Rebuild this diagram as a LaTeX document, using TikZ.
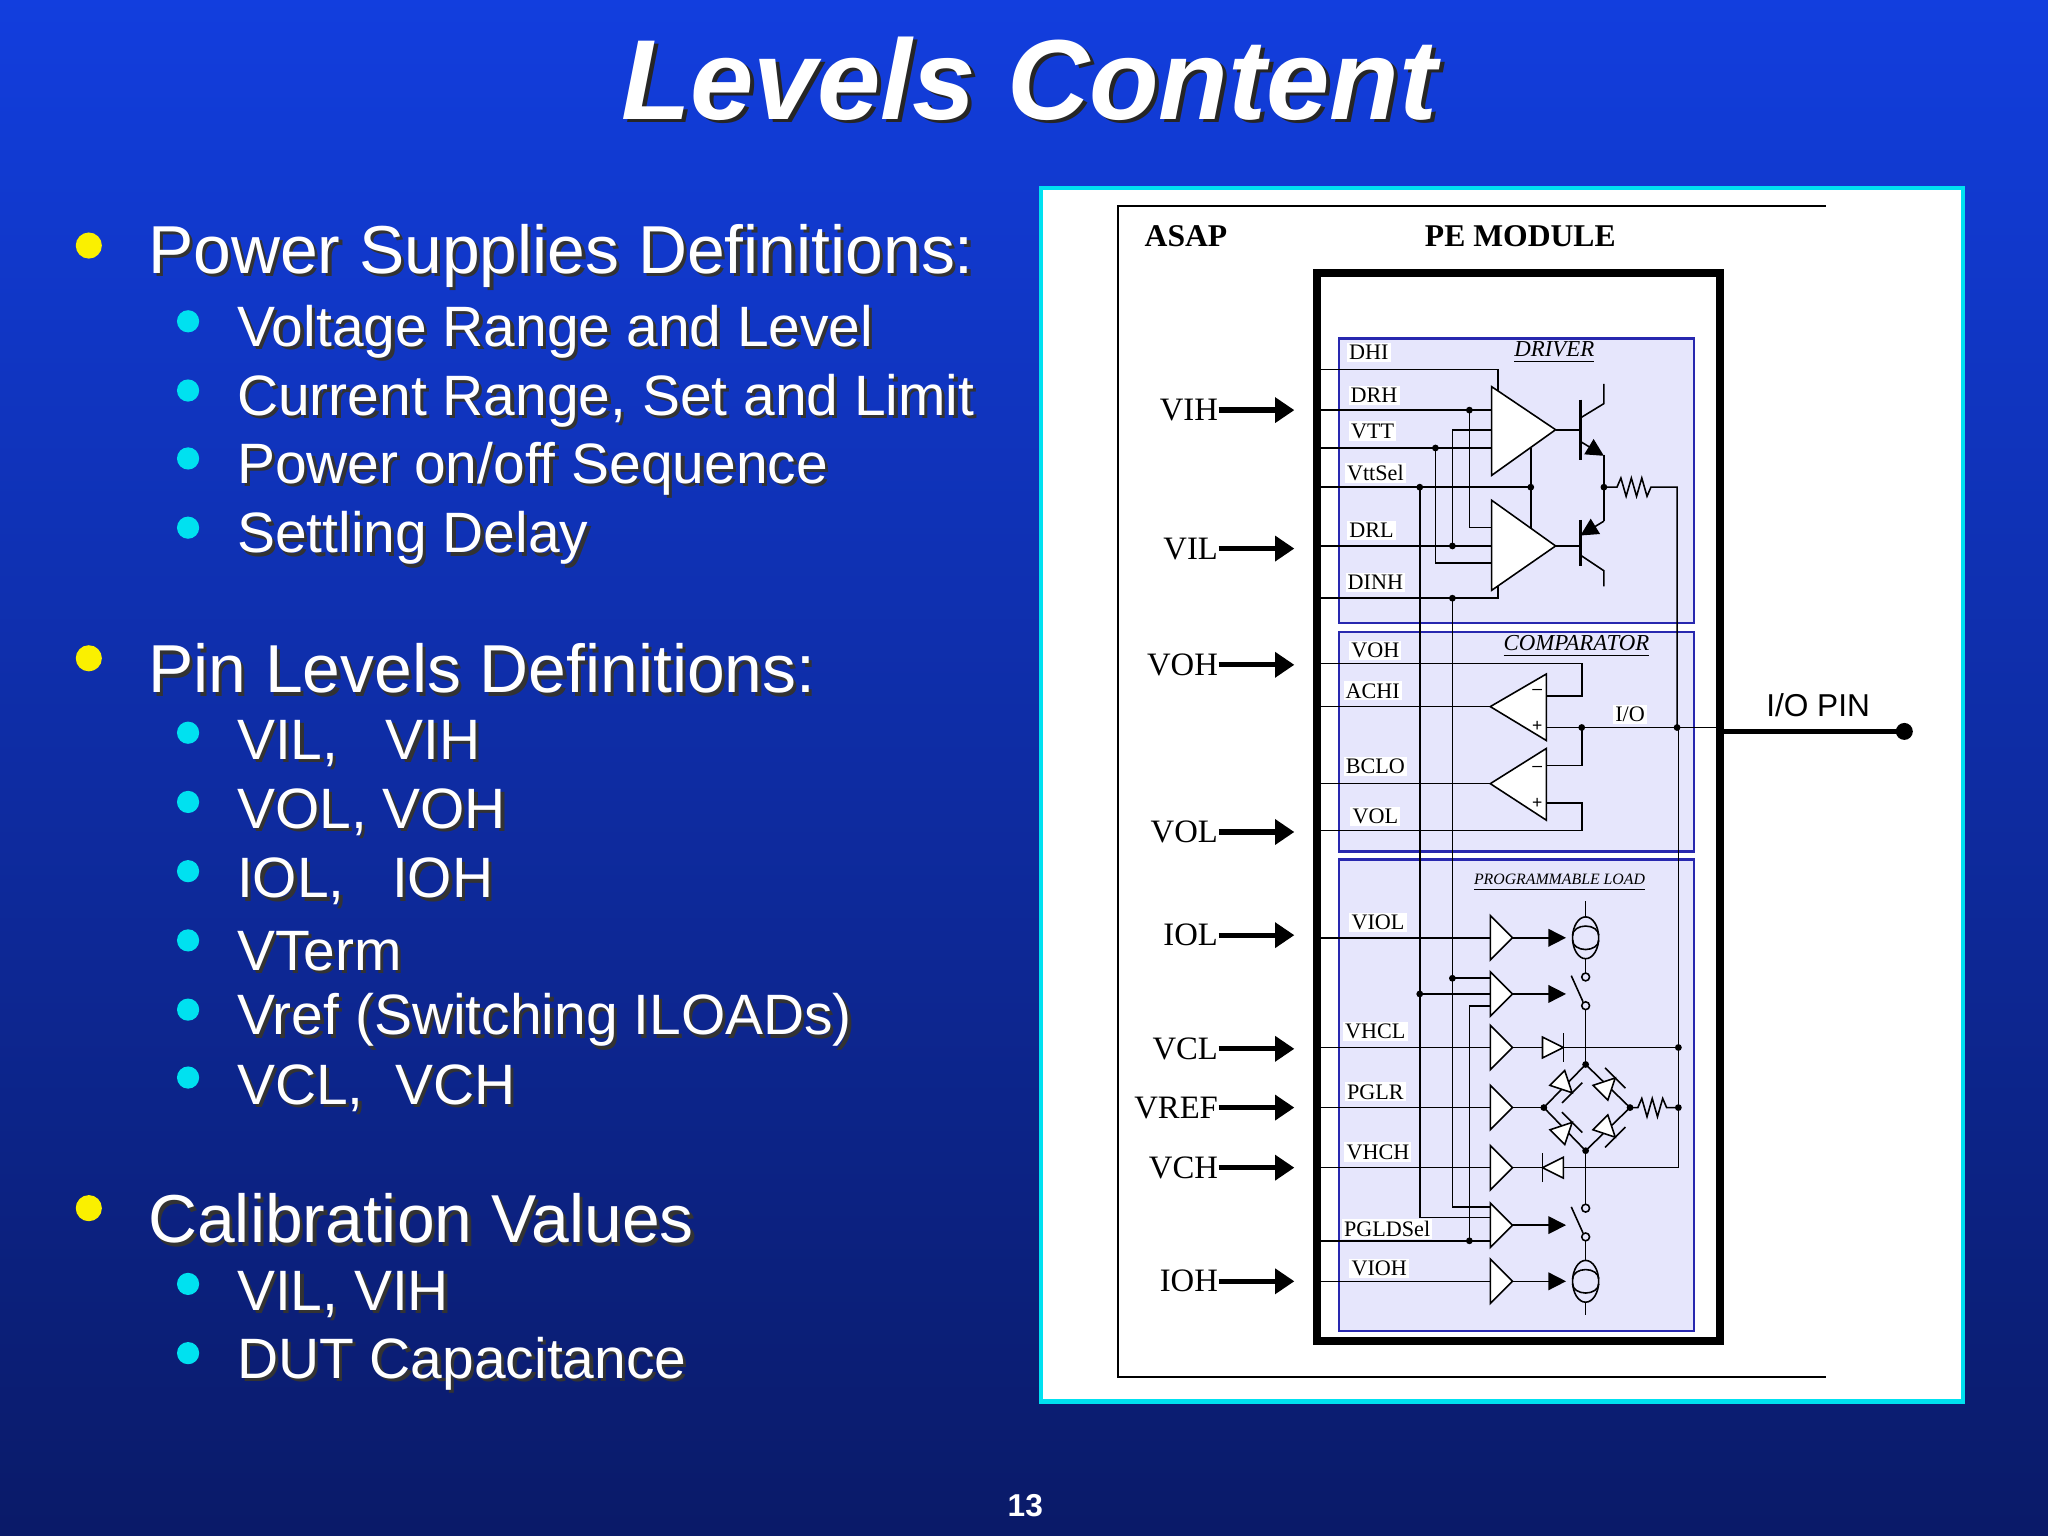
\documentclass[tikz,border=0pt]{standalone}
\usepackage{fontspec}
\setmainfont{Liberation Sans}
\newfontfamily\ser{Liberation Serif}
\usetikzlibrary{arrows.meta}
\definecolor{bgtop}{RGB}{18,62,222}
\definecolor{bgbot}{RGB}{10,26,104}
\definecolor{lav}{RGB}{230,230,252}
\definecolor{bbord}{RGB}{40,40,175}
\definecolor{cyanb}{RGB}{0,225,240}
\definecolor{bulY}{RGB}{250,240,0}
\definecolor{bulC}{RGB}{0,225,240}
\tikzset{
 w/.style={line width=0.45pt},
 inlab/.style={font=\ser\fontsize{6.3}{7}\selectfont, fill=white, inner sep=0.6pt},
 leftlab/.style={font=\ser\fontsize{9.3}{10}\selectfont, anchor=east, inner sep=0pt},
 bigarr/.style={line width=1.5pt,-{Triangle[length=5.5pt,width=7pt]}},
 dot/.style={fill=black},
 sub/.style={draw=bbord, fill=lav, line width=0.7pt},
}
\newcommand{\buf}[2]{\draw[w,fill=white] (#1,#2-17)--(#1+17,#2)--(#1,#2+17)--cycle;}
\newcommand{\jdot}[2]{\fill (#1,#2) circle (2.6);}
\newcommand{\shtxt}[4]{\node[anchor=west,inner sep=0pt,text=black!80,font=#3] at (#1+2.5,#2+2.5) {#4};\node[anchor=west,inner sep=0pt,text=white,font=#3] at (#1,#2) {#4};}
\newcommand{\csrc}[2]{\draw[w] (#1,#2) ellipse (10 and 16); \draw[w] (#1-10,#2-2) arc (180:360:10 and 7); \draw[w] (#1-10,#2+2) arc (180:0:10 and 7);}
\newcommand{\dio}[3]{\begin{scope}[shift={(#1,#2)},rotate=#3]\draw[w,fill=white] (-8,-8)--(8,0)--(-8,8)--cycle; \draw[w] (8,-11)--(8,11);\end{scope}}
\begin{document}
\begin{tikzpicture}[x=0.013061cm,y=-0.013061cm]
\useasboundingbox (0,0) rectangle (1568,1176);
\shade[top color=bgtop,bottom color=bgbot] (0,0) rectangle (1568,1176);
% title
\node[text=black!85,font=\bfseries\itshape\fontsize{32.4}{36}\selectfont] at (791,63) {Levels Content};
\node[text=white,font=\bfseries\itshape\fontsize{32.4}{36}\selectfont] at (788,60) {Levels Content};
% bullets
\foreach \y in {193,509,930} {\fill[bulY] (68,\y-5) circle (10);}
\foreach \y in {251,304,356,409,566,619,672,725,778,830,988,1041} {\fill[bulC] (144,\y-5) circle (8.5);}
\def\fa{\fontsize{19.3}{21}\selectfont}
\def\fb{\fontsize{16.2}{18}\selectfont}
\shtxt{113}{196}{\fa}{Power Supplies Definitions:}
\shtxt{181}{254}{\fb}{Voltage Range and Level}
\shtxt{181}{307}{\fb}{Current Range, Set and Limit}
\shtxt{181}{359}{\fb}{Power on/off Sequence}
\shtxt{181}{412}{\fb}{Settling Delay}
\shtxt{113}{512}{\fa}{Pin Levels Definitions:}
\shtxt{181}{569}{\fb}{VIL,\ \ \ VIH}
\shtxt{181}{622}{\fb}{VOL, VOH}
\shtxt{181}{675}{\fb}{IOL,\ \ \ IOH}
\shtxt{181}{728}{\fb}{VTerm}
\shtxt{181}{781}{\fb}{Vref (Switching ILOADs)}
\shtxt{181}{833}{\fb}{VCL,\ \ VCH}
\shtxt{113}{933}{\fa}{Calibration Values}
\shtxt{181}{991}{\fb}{VIL, VIH}
\shtxt{181}{1044}{\fb}{DUT Capacitance}
\node[text=white,font=\bfseries\fontsize{9}{10}\selectfont] at (785,1153) {13};
% panel
\draw[cyanb,fill=white,line width=1.2pt] (797,144) rectangle (1503,1073);
\draw[line width=0.6pt] (1398,158)--(856,158)--(856,1054)--(1398,1054);
\node[font=\ser\bfseries\fontsize{9}{10}\selectfont] at (908,181) {ASAP};
\node[font=\ser\bfseries\fontsize{9}{10}\selectfont] at (1164,181) {PE MODULE};
\draw[sub] (1025,259) rectangle (1297,477);
\draw[sub] (1025,484) rectangle (1297,652);
\draw[sub] (1025,658) rectangle (1297,1019);
% left inputs
\foreach \lab/\y in {VIH/314,VIL/420,VOH/509,VOL/637,IOL/716,VCL/803,VREF/848,VCH/894,IOH/981}{
  \node[leftlab] at (933,\y) {\lab};
  \draw[bigarr] (933,\y)--(991,\y);
}
% ===== driver wiring
\draw[w] (1010,283)-|(1147,299);
\draw[w] (1010,314)--(1142,314); \draw[w] (1125,314)--(1125,404)--(1142,404);
\draw[w] (1112,329)--(1142,329); \draw[w] (1112,329)--(1112,418);
\draw[w] (1010,343)--(1142,343); \draw[w] (1099,343)--(1099,431)--(1142,431);
\draw[w] (1010,373)--(1172,373);
\draw[w] (1010,418)--(1142,418);
\draw[w] (1010,458)-|(1147,448);
\draw[w,fill=white] (1142,296)--(1191,329)--(1142,364)--cycle;
\draw[w,fill=white] (1142,383)--(1191,418)--(1142,452)--cycle;
\draw[w] (1172,343)--(1172,404);
\jdot{1125}{314}\jdot{1099}{343}\jdot{1087}{373}\jdot{1172}{373}\jdot{1112}{418}\jdot{1112}{458}
% transistors
\draw[w] (1191,329)--(1210,329); \draw[line width=0.8pt] (1210,306)--(1210,352);
\draw[w] (1210,320)--(1228,309)--(1228,294);
\draw[w,-{Triangle[length=5pt,width=5pt]}] (1210,338)--(1228,349);
\draw[w] (1228,348)--(1228,399);
\draw[w] (1191,418)--(1210,418); \draw[line width=0.8pt] (1210,398)--(1210,433);
\draw[w,-{Triangle[length=5pt,width=5pt]}] (1228,399)--(1210,410);
\draw[w] (1210,425)--(1228,437)--(1228,449);
\jdot{1228}{373}
\draw[w] (1228,373)--(1238,373)--(1241,366)--(1245,380)--(1249,366)--(1253,380)--(1257,366)--(1261,380)--(1264,373)--(1284,373)--(1284,557);
% ===== comparator
\draw[w] (1010,508)-|(1211,533)--(1184,533);
\draw[w] (1010,541)--(1141,541);
\draw[w,fill=white] (1184,516)--(1141,541)--(1184,567)--cycle;
\draw[w] (1184,557)--(1317,557);
\draw[w] (1010,600)--(1141,600);
\draw[w,fill=white] (1184,573)--(1141,600)--(1184,628)--cycle;
\draw[w] (1184,586)-|(1211,557);
\draw[w] (1184,615)-|(1211,636)--(1010,636);
\foreach \y in {530,589}{\node[font=\fontsize{5}{5}\selectfont,inner sep=0pt] at (1177,\y) {--};}
\foreach \y in {556,615}{\node[font=\fontsize{5}{5}\selectfont,inner sep=0pt] at (1177,\y) {+};}
\jdot{1211}{557}\jdot{1284}{557}
\node[inlab] at (1248,547) {I/O};
% ===== programmable load
\draw[w] (1087,373)--(1087,932)--(1141,932);
\draw[w] (1112,458)--(1112,924)--(1141,924);
\draw[w] (1112,749)--(1141,749); \draw[w] (1087,761)--(1141,761);
\draw[w] (1125,770)--(1141,770); \draw[w] (1125,770)--(1125,950);
\draw[w] (1010,950)--(1141,950);
\jdot{1112}{749}\jdot{1087}{761}\jdot{1125}{950}
\foreach \y in {718,802,848,894,981}{\draw[w] (1010,\y)--(1141,\y);}
\foreach \y in {718,761,802,848,894,938,981}{\buf{1141}{\y}}
\foreach \y in {718,761,938,981}{\draw[w,-{Triangle[length=5pt,width=5pt]}] (1158,\y)--(1199,\y);}
% current sources
\draw[w] (1214,690)--(1214,702); \csrc{1214}{718}; \draw[w] (1214,734)--(1214,745);
\draw[w] (1214,748) circle (3); \draw[w] (1212,767)--(1203,747); \draw[w] (1214,770) circle (3);
\draw[w] (1214,773)--(1214,815);
\draw[w] (1214,881)--(1214,922); \draw[w] (1214,925) circle (3); \draw[w] (1212,944)--(1203,924); \draw[w] (1214,947) circle (3);
\draw[w] (1214,950)--(1214,965); \csrc{1214}{981}; \draw[w] (1214,997)--(1214,1007);
% clamps
\draw[w] (1158,802)--(1285,802); \dio{1189}{802}{0}
\draw[w] (1158,894)--(1285,894); \dio{1189}{894}{180}
\draw[w] (1285,557)--(1285,894);
\jdot{1285}{802}
% bridge
\draw[w] (1158,848)--(1182,848);
\draw[w] (1182,848)--(1214,815)--(1248,848)--(1214,881)--cycle;
\dio{1198}{831}{-45}\dio{1231}{831}{45}\dio{1198}{865}{45}\dio{1231}{865}{-45}
\jdot{1182}{848}\jdot{1214}{815}\jdot{1214}{881}\jdot{1248}{848}\jdot{1285}{848}
\draw[w] (1248,848)--(1254,848)--(1257,841)--(1261,855)--(1265,841)--(1269,855)--(1273,841)--(1276,848)--(1285,848);
% thick box
\draw[line width=2.3pt] (1008,209) rectangle (1317,1027);
% I/O pin
\draw[line width=1.6pt] (1317,560)--(1458,560);
\fill (1458,560) circle (6.5);
\node[font=\fontsize{9}{10}\selectfont] at (1392,540) {I/O PIN};
% inner labels
\foreach \lab/\x/\y in {DHI/1048/270,DRH/1052/303,VTT/1051/330,VttSel/1053/362,DRL/1050/406,DINH/1053/446,VOH/1053/498,ACHI/1051/529,BCLO/1053/587,VOL/1053/625,VIOL/1055/706,VHCL/1053/790,PGLR/1053/836,VHCH/1055/882,PGLDSel/1062/941,VIOH/1056/971}{\node[inlab] at (\x,\y) {\lab};}
\node[font=\ser\itshape\fontsize{6.5}{7}\selectfont,inner sep=0.5pt] (drv) at (1190,270) {\underline{DRIVER}};
\node[font=\ser\itshape\fontsize{6.5}{7}\selectfont,inner sep=0.5pt] (cmp) at (1207,495) {\underline{COMPARATOR}};
\node[font=\ser\itshape\fontsize{4.5}{5}\selectfont,inner sep=0.5pt] (pl) at (1194,676) {\underline{PROGRAMMABLE LOAD}};
\end{tikzpicture}
\end{document}
